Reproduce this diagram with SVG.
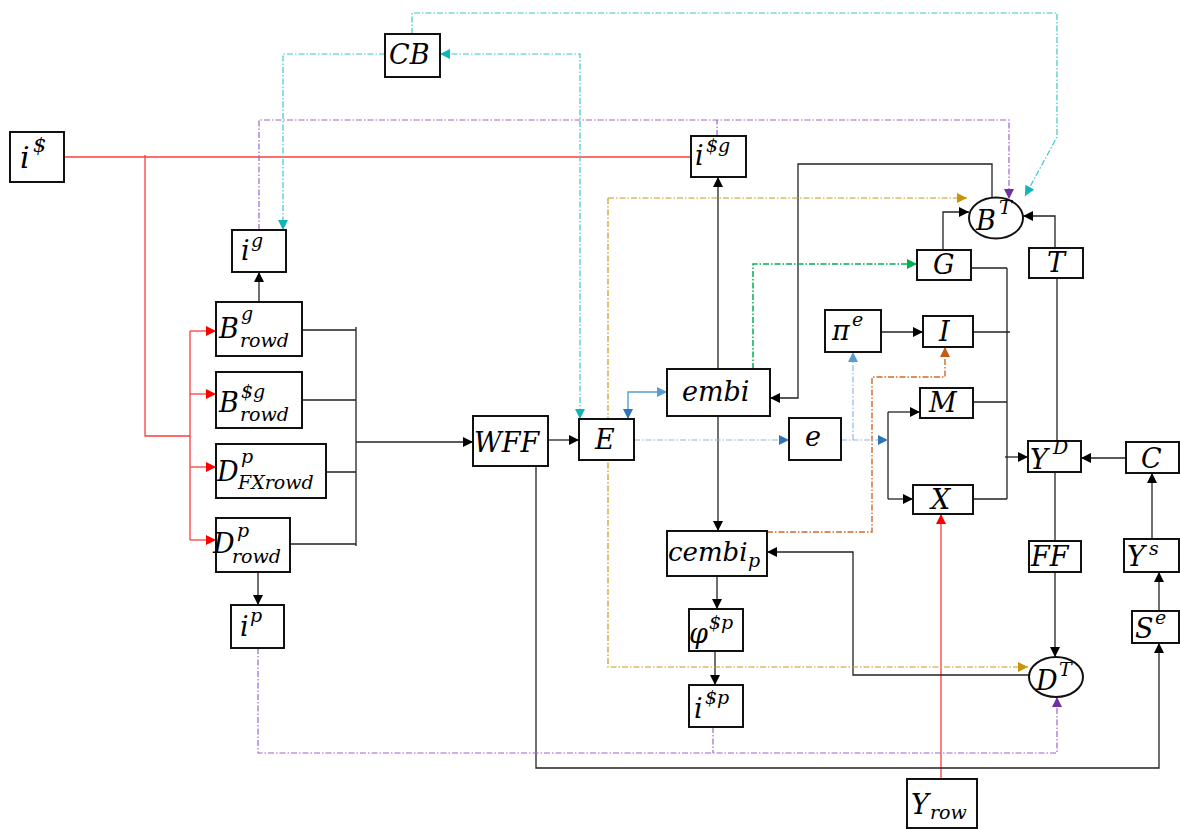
<svg xmlns="http://www.w3.org/2000/svg" width="1180" height="829" viewBox="0 0 1180 829">
<style>
.box{fill:#fff;stroke:#111;stroke-width:2}
.t{font-family:"DejaVu Serif","Liberation Serif",serif;font-style:italic;font-size:27px;fill:#000}
.s{font-size:19px}
.k{fill:none;stroke:#222;stroke-width:1.3}
.r{fill:none;stroke:#ff3b3b;stroke-width:1.3}
.dd{fill:none;stroke-width:1.2;stroke-dasharray:6 2 1.5 2}
.cy{stroke:#3cc6c6}
.pu{stroke:#9a66cc}
.go{stroke:#c99a1e}
.gr{stroke:#00b050;stroke-width:1.5}
.or{stroke:#d0692a;stroke-width:1.4}
.bl{stroke:#8fb8e0}
</style>
<defs>
<marker id="ak" viewBox="0 0 10 10" refX="10" refY="5" markerWidth="11" markerHeight="10" markerUnits="userSpaceOnUse" orient="auto-start-reverse"><path d="M0,0L10,5L0,10z" fill="#000"/></marker>
<marker id="ar" viewBox="0 0 10 10" refX="10" refY="5" markerWidth="11" markerHeight="10" markerUnits="userSpaceOnUse" orient="auto"><path d="M0,0L10,5L0,10z" fill="#ff0000"/></marker>
<marker id="ac" viewBox="0 0 10 10" refX="10" refY="5" markerWidth="11" markerHeight="10" markerUnits="userSpaceOnUse" orient="auto-start-reverse"><path d="M0,0L10,5L0,10z" fill="#12b5b5"/></marker>
<marker id="ap" viewBox="0 0 10 10" refX="10" refY="5" markerWidth="11" markerHeight="10" markerUnits="userSpaceOnUse" orient="auto"><path d="M0,0L10,5L0,10z" fill="#7030a0"/></marker>
<marker id="ag" viewBox="0 0 10 10" refX="10" refY="5" markerWidth="11" markerHeight="10" markerUnits="userSpaceOnUse" orient="auto"><path d="M0,0L10,5L0,10z" fill="#c8940a"/></marker>
<marker id="agr" viewBox="0 0 10 10" refX="10" refY="5" markerWidth="11" markerHeight="10" markerUnits="userSpaceOnUse" orient="auto"><path d="M0,0L10,5L0,10z" fill="#00b050"/></marker>
<marker id="ao" viewBox="0 0 10 10" refX="10" refY="5" markerWidth="11" markerHeight="10" markerUnits="userSpaceOnUse" orient="auto"><path d="M0,0L10,5L0,10z" fill="#c55a11"/></marker>
<marker id="ab" viewBox="0 0 10 10" refX="10" refY="5" markerWidth="11" markerHeight="10" markerUnits="userSpaceOnUse" orient="auto-start-reverse"><path d="M0,0L10,5L0,10z" fill="#2e75b6"/></marker>
<marker id="ab2" viewBox="0 0 10 10" refX="10" refY="5" markerWidth="11" markerHeight="10" markerUnits="userSpaceOnUse" orient="auto"><path d="M0,0L10,5L0,10z" fill="#5b9bd5"/></marker>
</defs>

<g id="connectors">
<path class="r" d="M64,157H691"/>
<path class="r" d="M145,155V436H190"/>
<path class="r" d="M190,331V540"/>
<path class="r" d="M190,331H216" marker-end="url(#ar)"/>
<path class="r" d="M190,394H216" marker-end="url(#ar)"/>
<path class="r" d="M190,467H216" marker-end="url(#ar)"/>
<path class="r" d="M190,540H216" marker-end="url(#ar)"/>
<path class="r" d="M941,779V514" marker-end="url(#ar)"/>
<path class="k" d="M259,302V272" marker-end="url(#ak)"/>
<path class="k" d="M258,572V605" marker-end="url(#ak)"/>
<path class="k" d="M302,330H356M302,400H356M326,472H356M290,544H356M356,327V546"/>
<path class="k" d="M356,442H473" marker-end="url(#ak)"/>
<path class="k" d="M548,440H579" marker-end="url(#ak)"/>
<path class="k" d="M536,466V768H1159V643" marker-end="url(#ak)"/>
<path class="k" d="M718,369V177" marker-end="url(#ak)"/>
<path class="k" d="M718,416V531" marker-end="url(#ak)"/>
<path class="k" d="M717,576V609" marker-end="url(#ak)"/>
<path class="k" d="M715,651V685" marker-end="url(#ak)"/>
<path class="k" d="M992,198V164H798V398H770" marker-end="url(#ak)"/>
<path class="k" d="M943,250V212H969" marker-end="url(#ak)"/>
<path class="k" d="M1055,248V216H1023" marker-end="url(#ak)"/>
<path class="k" d="M881,332H923" marker-end="url(#ak)"/>
<path class="k" d="M971,268H1007M973,332H1010M973,402H1007M973,499H1007M1007,268V499"/>
<path class="k" d="M1005,457H1028" marker-end="url(#ak)"/>
<path class="k" d="M1057,278V441"/>
<path class="k" d="M1126,458H1081" marker-end="url(#ak)"/>
<path class="k" d="M1152,539V473" marker-end="url(#ak)"/>
<path class="k" d="M1159,611V572" marker-end="url(#ak)"/>
<path class="k" d="M1055,472V541"/>
<path class="k" d="M1055,572V657" marker-end="url(#ak)"/>
<path class="k" d="M888,412V499"/>
<path class="k" d="M888,412H920" marker-end="url(#ak)"/>
<path class="k" d="M888,499H913" marker-end="url(#ak)"/>
<path class="k" d="M1029,675H853V552H767" marker-end="url(#ak)"/>
<path class="dd cy" d="M385,54H283V230" marker-end="url(#ac)"/>
<path class="dd cy" d="M440,54H580V419" marker-start="url(#ac)" marker-end="url(#ac)"/>
<path class="dd cy" d="M412,34V13H1057V137L1025,196" marker-end="url(#ac)"/>
<path class="dd pu" d="M259,230V120H1009V199" marker-end="url(#ap)"/>
<path class="dd pu" d="M717,136V120"/>
<path class="dd pu" d="M258,648V753H1057V697" marker-end="url(#ap)"/>
<path class="dd pu" d="M713,727V753"/>
<path class="dd go" d="M608,198H967" marker-end="url(#ag)"/>
<path class="dd go" d="M608,198V667H1028" marker-end="url(#ag)"/>
<path class="dd gr" d="M753,369V264H917" marker-end="url(#agr)"/>
<path class="dd or" d="M767,532H872V377H945V347" marker-end="url(#ao)"/>
<path fill="none" stroke="#5b9bd5" stroke-width="1.4" d="M628,419V392H667" marker-start="url(#ab)" marker-end="url(#ab2)"/>
<path class="dd bl" d="M634,440H789" marker-end="url(#ab)"/>
<path class="dd bl" d="M841,440H888" marker-end="url(#ab)"/>
<path class="dd bl" d="M853,440V352" marker-end="url(#ab2)"/>
</g>

<g id="n-i-dollar"><rect class="box" x="10" y="132" width="54" height="50"/><text class="t" style="font-size:30px"><tspan x="20" y="168">i</tspan><tspan class="s" style="font-size:21px" x="33" y="152">$</tspan></text></g>
<g id="n-CB"><rect class="box" x="385" y="34" width="55" height="43"/><text class="t" x="389" y="64">CB</text></g>
<g id="n-ig"><rect class="box" x="232" y="230" width="54" height="42"/><text class="t"><tspan x="241" y="260">i</tspan><tspan class="s" x="251" y="247">g</tspan></text></g>
<g id="n-Bg"><rect class="box" x="216" y="302" width="86" height="54"/><text class="t"><tspan x="219" y="338">B</tspan><tspan class="s" x="241" y="320">g</tspan><tspan class="s" x="240" y="347">rowd</tspan></text></g>
<g id="n-Bdg"><rect class="box" x="216" y="372" width="86" height="56"/><text class="t"><tspan x="219" y="412">B</tspan><tspan class="s" x="241" y="398">$g</tspan><tspan class="s" x="240" y="421">rowd</tspan></text></g>
<g id="n-DFX"><rect class="box" x="216" y="444" width="110" height="54"/><text class="t"><tspan x="217" y="481">D</tspan><tspan class="s" x="241" y="463">p</tspan><tspan class="s" x="238" y="489">FXrowd</tspan></text></g>
<g id="n-Dp"><rect class="box" x="216" y="518" width="74" height="54"/><text class="t"><tspan x="213" y="553">D</tspan><tspan class="s" x="237" y="537">p</tspan><tspan class="s" x="232" y="563">rowd</tspan></text></g>
<g id="n-ip"><rect class="box" x="231" y="605" width="53" height="43"/><text class="t"><tspan x="240" y="636">i</tspan><tspan class="s" x="250" y="622">p</tspan></text></g>
<g id="n-WFF"><rect class="box" x="473" y="416" width="75" height="50"/><text class="t" x="474" y="452">WFF</text></g>
<g id="n-E"><rect class="box" x="579" y="419" width="55" height="41"/><text class="t" x="595" y="449">E</text></g>
<g id="n-embi"><rect class="box" x="667" y="369" width="103" height="47"/><text class="t" x="682" y="401">embi</text></g>
<g id="n-e"><rect class="box" x="789" y="418" width="52" height="42"/><text class="t" x="805" y="446">e</text></g>
<g id="n-pie"><rect class="box" x="825" y="310" width="56" height="42"/><text class="t"><tspan x="832" y="340">π</tspan><tspan class="s" x="852" y="326">e</tspan></text></g>
<g id="n-idg"><rect class="box" x="691" y="136" width="55" height="41"/><text class="t"><tspan x="695" y="165">i</tspan><tspan class="s" x="706" y="152">$g</tspan></text></g>
<g id="n-BT"><ellipse fill="#fff" stroke="#111" stroke-width="2" cx="996" cy="218" rx="27" ry="20.5"/><text class="t"><tspan x="976" y="230">B</tspan><tspan class="s" x="999" y="214">T</tspan></text></g>
<g id="n-G"><rect class="box" x="917" y="250" width="54" height="30"/><text class="t" x="933" y="274">G</text></g>
<g id="n-T"><rect class="box" x="1029" y="248" width="54" height="30"/><text class="t" x="1047" y="272">T</text></g>
<g id="n-I"><rect class="box" x="923" y="316" width="50" height="31"/><text class="t" x="939" y="341">I</text></g>
<g id="n-M"><rect class="box" x="920" y="388" width="53" height="30"/><text class="t" x="929" y="412">M</text></g>
<g id="n-X"><rect class="box" x="913" y="485" width="60" height="29"/><text class="t" x="931" y="509">X</text></g>
<g id="n-YD"><rect class="box" x="1028" y="441" width="53" height="31"/><text class="t"><tspan x="1030" y="469">Y</tspan><tspan class="s" x="1053" y="454">D</tspan></text></g>
<g id="n-C"><rect class="box" x="1126" y="442" width="53" height="31"/><text class="t" x="1141" y="468">C</text></g>
<g id="n-FF"><rect class="box" x="1029" y="541" width="52" height="31"/><text class="t" x="1031" y="566">FF</text></g>
<g id="n-Ys"><rect class="box" x="1124" y="539" width="55" height="33"/><text class="t"><tspan x="1127" y="566">Y</tspan><tspan class="s" x="1149" y="555">s</tspan></text></g>
<g id="n-Se"><rect class="box" x="1132" y="611" width="47" height="32"/><text class="t"><tspan x="1135" y="638">S</tspan><tspan class="s" x="1155" y="624">e</tspan></text></g>
<g id="n-DT"><ellipse fill="#fff" stroke="#111" stroke-width="2" cx="1056" cy="677" rx="27" ry="20"/><text class="t"><tspan x="1036" y="690">D</tspan><tspan class="s" x="1059" y="676">T</tspan></text></g>
<g id="n-Yrow"><rect class="box" x="907" y="779" width="70" height="49"/><text class="t"><tspan x="911" y="814">Y</tspan><tspan class="s" x="930" y="819">row</tspan></text></g>
<g id="n-cembi"><rect class="box" x="667" y="531" width="100" height="45"/><text class="t" style="font-size:26px"><tspan x="668" y="561">cembi</tspan><tspan class="s" x="748" y="567">p</tspan></text></g>
<g id="n-phi"><rect class="box" x="689" y="609" width="54" height="42"/><text class="t"><tspan x="689" y="643">φ</tspan><tspan class="s" x="709" y="629">$p</tspan></text></g>
<g id="n-idp"><rect class="box" x="689" y="685" width="54" height="42"/><text class="t"><tspan x="694" y="718">i</tspan><tspan class="s" x="705" y="704">$p</tspan></text></g>
</svg>
